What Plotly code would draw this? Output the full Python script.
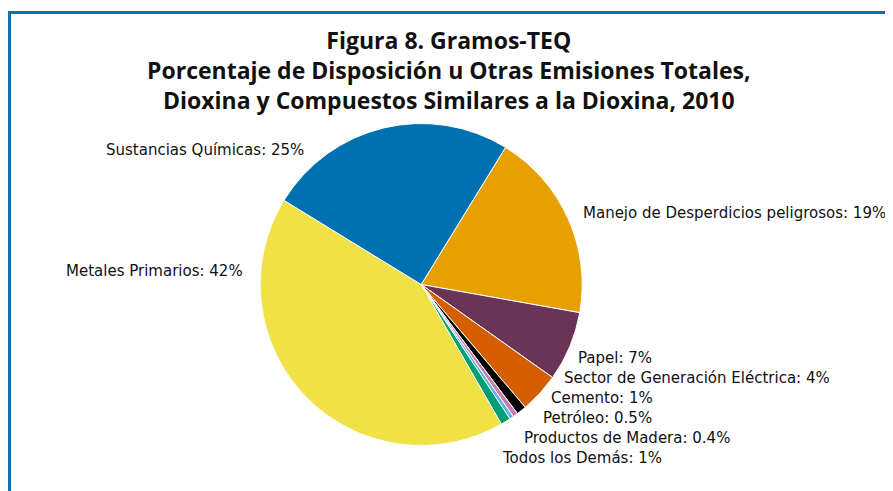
import plotly.graph_objects as go

labels = ["Manejo de Desperdicios peligrosos", "Papel", "Sector de Generación Eléctrica",
          "Cemento", "Petróleo", "Productos de Madera", "Todos los Demás",
          "Metales Primarios", "Sustancias Químicas"]
values = [19, 7, 4, 1, 0.5, 0.4, 1, 42, 25]
pct_text = ["19%", "7%", "4%", "1%", "0.5%", "0.4%", "1%", "42%", "25%"]
colors = ["#E6A000", "#6B3456", "#D55E00", "#000000", "#CC79A7", "#56B4E9",
          "#009E73", "#EFE146", "#0071B0"]

OFF = 8  # page body margin
W, H = 893 - OFF, 491 - OFF
FONT = "Open Sans"
LABEL_FONT = "DejaVu Sans"


def fx(px):
    return (px - OFF) / W


def fy(py):
    return 1 - (py - OFF) / H


cx, cy, r = 421.2, 284.5, 161
fig = go.Figure(go.Pie(
    labels=labels, values=values, sort=False, direction="clockwise",
    rotation=31.6, textinfo="none", hoverinfo="label+percent",
    marker=dict(colors=colors, line=dict(color="white", width=1)),
    domain=dict(x=[fx(cx - r), fx(cx + r)], y=[fy(cy + r), fy(cy - r)]),
    showlegend=False,
))

# label placement (pixel positions, anchor)
label_pos = [
    (582, 213, "left"),
    (577, 358, "left"),
    (563, 378, "left"),
    (550, 398, "left"),
    (542, 418, "left"),
    (523, 438, "left"),
    (501, 458, "left"),
    (244, 271, "right"),
    (305, 150, "right"),
]

annotations = []
for lab, pt, (px, py, anc) in zip(labels, pct_text, label_pos):
    annotations.append(dict(
        text=f"{lab}: {pt}", x=fx(px), y=fy(py), xref="paper", yref="paper",
        xanchor=anc, yanchor="middle", showarrow=False, borderpad=0,
        font=dict(family=LABEL_FONT, size=15, color="#111111")))

title_lines = ["Figura 8. Gramos-TEQ",
               "Porcentaje de Disposición u Otras Emisiones Totales,",
               "Dioxina y Compuestos Similares a la Dioxina, 2010"]
annotations.append(dict(
    text="<br>".join(f"<b>{t}</b>" for t in title_lines),
    x=fx(449), y=fy(70), xref="paper", yref="paper",
    xanchor="center", yanchor="middle", showarrow=False, align="center",
    font=dict(family=FONT, size=23, color="#111111")))

shapes = [
    dict(type="path", xref="paper", yref="paper",
         path=f"M {fx(9.5)},-0.05 L {fx(9.5)},{fy(12.5)} L 1.05,{fy(12.5)}",
         line=dict(color="#0072B5", width=3)),
]

fig.update_layout(
    width=W, height=H, margin=dict(l=0, r=0, t=0, b=0),
    paper_bgcolor="white", plot_bgcolor="white",
    annotations=annotations, shapes=shapes,
)

fig.write_html("out.html")
